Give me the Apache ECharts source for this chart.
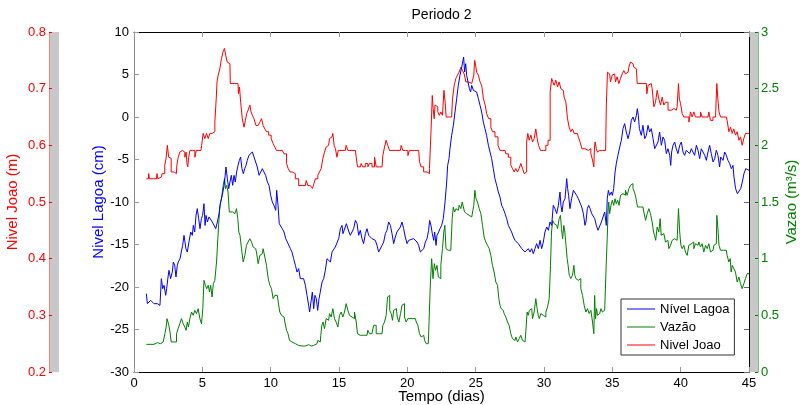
<!DOCTYPE html>
<html><head><meta charset="utf-8">
<script src="https://cdn.jsdelivr.net/npm/echarts@6/dist/echarts.min.js"></script>
<style>html,body{margin:0;padding:0;background:#fff}#c{width:800px;height:405px}</style>
</head><body><div id="c"></div>
<script>
// ---- Data ----
const lagoaDays = [0.9,0.98,1.1,1.22,1.34,1.46,1.71,1.9,2.0,2.1,2.2,2.32,2.39,2.49,2.56,2.68,2.8,2.88,2.98,3.07,3.17,3.24,3.37,3.46,3.56,3.66,3.73,3.8,3.9,4.02,4.15,4.27,4.34,4.44,4.54,4.63,4.73,4.83,4.93,5.02,5.12,5.2,5.27,5.37,5.49,5.61,5.73,5.85,5.98,6.1,6.22,6.34,6.46,6.59,6.66,6.73,6.83,6.93,7.02,7.12,7.22,7.32,7.41,7.51,7.61,7.71,7.8,7.9,8.0,8.1,8.2,8.29,8.41,8.54,8.66,8.78,8.9,9.02,9.15,9.27,9.39,9.51,9.63,9.76,9.88,10.0,10.12,10.24,10.37,10.44,10.54,10.63,10.73,10.85,10.98,11.1,11.22,
11.32,11.44,11.56,11.68,11.81,11.93,12.05,12.17,12.41,12.54,12.66,12.78,12.85,12.95,13.05,13.15,13.24,13.34,13.44,13.54,13.63,13.76,13.88,14.0,14.12,14.24,14.37,14.49,14.61,14.73,14.85,14.98,15.1,15.22,15.29,15.39,15.54,15.63,15.73,15.83,15.95,16.07,16.2,16.32,16.44,16.56,16.68,16.8,16.93,17.05,17.17,17.29,17.41,17.54,17.66,17.78,17.9,18.02,18.15,18.27,18.39,18.51,18.63,18.76,18.88,19.0,19.12,19.24,19.49,19.61,19.73,19.85,19.98,20.1,20.22,20.46,20.71,20.83,20.95,21.07,21.2,21.32,21.44,21.56,21.63,21.73,21.83,21.93,22.0,22.1,22.17,22.29,
22.39,22.51,22.63,22.76,22.88,22.95,23.05,23.12,23.24,23.37,23.49,23.61,23.73,23.85,23.98,24.05,24.12,24.19,24.27,24.34,24.46,24.54,24.63,24.71,24.83,24.95,25.07,25.2,25.32,25.44,25.56,25.68,25.8,25.93,26.05,26.17,26.29,26.41,26.54,26.66,26.78,26.9,27.02,27.15,27.27,27.39,27.51,27.63,27.76,27.88,28.0,28.12,28.24,28.37,28.49,28.61,28.73,28.85,28.98,29.1,29.22,29.34,29.46,29.59,29.71,29.83,29.95,30.07,30.2,30.32,30.44,30.56,30.68,30.8,30.93,31.05,31.17,31.24,31.32,31.41,31.54,31.66,31.73,31.8,31.9,32.02,32.15,32.27,32.39,32.51,32.63,32.76,32.88,33.0,33.07,33.17,33.27,33.37,33.49,33.61,
33.71,33.83,33.95,34.07,34.2,34.32,34.44,34.56,34.63,34.71,34.8,34.93,35.0,35.1,35.2,35.29,35.41,35.54,35.66,35.78,35.9,36.02,36.15,36.27,36.39,36.51,36.63,36.76,36.83,36.9,36.98,37.12,37.24,37.37,37.49,37.61,37.73,37.85,37.98,38.1,38.22,38.34,38.46,38.59,38.71,38.83,38.95,39.07,39.2,39.27,39.34,39.44,39.56,39.68,39.8,39.93,40.05,40.17,40.29,40.41,40.54,40.66,40.78,40.9,41.02,41.15,41.27,41.39,41.51,41.63,41.76,41.88,42.0,42.12,42.24,42.37,42.49,42.61,42.73,42.85,42.93,43.0,43.1,43.22,43.34,43.46,43.59,43.71,43.83,43.9,44.02,44.15,44.27,44.39,44.51,44.63,44.76,44.88,45.0];
const lagoaCm = [-20.78,-21.96,-21.76,-21.57,-21.76,-21.96,-21.96,-22.16,-19.02,-20.2,-19.8,-20.98,-20.2,-18.82,-18.04,-19.02,-18.24,-17.06,-17.45,-18.82,-17.45,-17.06,-16.67,-15.88,-15.1,-13.92,-14.71,-15.49,-15.88,-14.71,-13.53,-13.92,-12.75,-13.53,-11.57,-10.78,-11.96,-13.14,-11.96,-11.57,-10.2,-12.75,-11.57,-12.35,-11.76,-11.96,-12.35,-12.16,-13.14,-12.35,-11.37,-10.0,-9.22,-8.04,-7.06,-5.88,-7.25,-8.43,-7.65,-6.86,-8.04,-6.86,-7.65,-6.47,-5.69,-5.1,-4.71,-6.08,-6.67,-6.08,-5.69,-5.1,-4.51,-4.31,-4.12,-4.31,-5.29,-5.88,-6.86,-6.67,-6.08,-6.08,-6.86,-7.65,-8.04,-9.22,-10.0,-10.39,-10.98,-8.63,-10.39,-12.55,-12.75,-13.14,-13.53,-14.31,-14.71,
-14.9,-15.49,-15.88,-16.67,-17.45,-18.24,-17.84,-19.02,-19.02,-19.8,-20.98,-22.16,-22.94,-21.76,-20.59,-22.55,-20.98,-21.37,-22.75,-21.37,-20.59,-19.41,-19.02,-18.04,-16.67,-16.86,-17.06,-15.88,-15.69,-15.29,-15.1,-14.31,-13.14,-12.75,-13.73,-13.53,-12.55,-12.75,-13.53,-13.92,-13.92,-13.14,-12.16,-12.55,-13.92,-13.33,-14.31,-14.9,-13.73,-13.14,-13.92,-14.12,-14.31,-14.51,-14.51,-15.1,-15.88,-15.88,-15.1,-14.71,-13.73,-13.33,-12.35,-12.75,-13.73,-14.9,-14.12,-13.53,-12.94,-12.35,-13.14,-14.12,-14.9,-14.51,-14.31,-14.31,-14.71,-15.1,-15.88,-15.88,-15.49,-14.71,-14.31,-13.33,-12.16,-12.75,-13.73,-14.51,-13.53,-15.1,-13.92,-13.53,
-13.14,-12.75,-11.96,-10.0,-7.65,-5.69,-4.9,-3.73,-2.16,-0.98,0.59,2.16,3.73,4.9,5.88,6.47,7.06,5.29,6.27,4.9,4.9,3.33,2.94,3.73,3.14,3.33,2.94,2.16,1.37,0.59,-0.59,-1.37,-2.16,-3.33,-4.12,-4.9,-6.08,-7.25,-8.04,-8.82,-9.41,-10.39,-10.78,-11.37,-11.96,-12.75,-13.14,-13.53,-14.12,-14.51,-14.31,-14.9,-15.1,-15.49,-15.29,-15.88,-16.08,-15.49,-15.88,-15.49,-16.08,-15.49,-14.9,-15.49,-14.51,-15.49,-14.71,-13.53,-12.94,-13.33,-12.35,-12.75,-10.39,-10.78,-11.37,-10.39,-8.82,-10.39,-11.18,-10.0,-9.61,-7.25,-8.43,-9.22,-10.78,-9.61,-8.63,-8.82,-9.22,-9.61,-9.8,-10.59,-11.37,-12.75,-12.35,-10.78,-10.39,-10.78,-11.37,-11.37,
-11.96,-12.75,-13.33,-13.14,-12.35,-11.76,-11.18,-12.75,-9.61,-8.63,-9.22,-8.82,-9.22,-8.43,-6.47,-5.49,-4.51,-3.53,-2.75,-1.37,-0.78,-1.76,-2.55,-1.76,-0.39,0.0,-0.59,0.2,0.98,0.2,-1.37,-2.16,-0.98,-2.55,-2.16,-0.98,-1.76,-1.37,-2.55,-3.73,-3.92,-2.94,-1.76,-3.33,-2.35,-2.75,-4.31,-3.73,-4.51,-5.69,-4.12,-3.33,-2.94,-3.73,-4.31,-3.33,-2.94,-4.12,-4.51,-3.92,-4.12,-4.31,-3.73,-4.12,-4.51,-3.33,-3.92,-4.9,-3.73,-3.53,-4.51,-5.1,-4.12,-3.33,-4.31,-5.29,-4.9,-3.92,-4.51,-5.88,-4.71,-4.9,-5.1,-4.12,-4.51,-5.1,-5.49,-6.08,-5.69,-7.06,-8.43,-9.02,-9.02,-8.43,-7.65,-6.67,-6.08,-6.08,-6.27];

const vazaoDays = [0.9,1.46,1.71,1.95,2.07,2.2,2.32,2.39,2.44,2.51,2.59,2.68,2.76,3.05,3.17,3.29,3.41,3.54,3.66,3.78,3.85,3.95,4.02,4.15,4.27,4.39,4.51,4.63,4.76,4.88,5.0,5.07,5.17,5.27,5.37,5.49,5.56,5.66,5.76,5.85,5.98,6.1,6.17,6.24,6.34,6.46,6.59,6.66,6.73,6.83,6.93,7.02,7.12,7.32,7.44,7.56,7.63,7.71,7.8,7.93,8.05,8.17,8.29,8.41,8.54,8.66,8.78,8.9,9.02,9.15,9.27,9.39,9.51,9.63,9.76,9.88,10.0,10.12,10.24,10.37,10.49,10.61,10.73,10.85,10.98,11.1,11.22,
11.32,11.44,11.56,11.68,11.93,12.17,12.41,12.66,12.9,13.02,13.15,13.39,13.51,13.63,13.71,13.78,13.88,14.0,14.12,14.24,14.37,14.49,14.61,14.73,14.85,14.98,15.1,15.22,15.34,15.46,15.59,15.71,15.83,15.95,16.07,16.2,16.32,16.39,16.56,17.05,17.17,17.29,17.41,17.66,17.78,18.15,18.27,18.39,18.51,18.59,18.66,18.76,18.88,18.95,19.05,19.2,19.32,19.44,19.56,19.66,19.73,19.85,19.98,20.1,20.59,20.71,20.83,20.95,21.07,21.2,21.32,21.44,21.63,21.73,21.83,21.93,22.02,22.12,22.22,22.32,
22.39,22.51,22.63,22.71,22.78,22.88,23.0,23.12,23.24,23.32,23.41,23.51,23.61,23.73,23.85,23.98,24.05,24.15,24.22,24.34,24.46,24.59,24.83,24.9,24.98,25.07,25.2,25.32,25.44,25.56,25.68,25.8,25.93,26.05,26.17,26.29,26.41,26.54,26.66,26.73,26.83,26.9,27.02,27.15,27.27,27.39,27.51,27.63,27.76,27.88,28.0,28.12,28.24,28.37,28.49,28.61,28.73,28.8,28.88,28.98,29.1,29.22,29.34,29.46,29.54,29.61,29.71,29.83,29.95,30.07,30.2,30.32,30.44,30.51,30.59,30.68,30.8,30.93,31.05,31.17,31.24,31.32,31.41,31.49,31.56,31.66,31.73,31.8,31.9,32.02,32.15,32.22,32.29,32.39,32.51,32.63,32.76,32.88,33.0,33.12,33.24,33.37,33.49,33.61,33.68,
33.73,33.81,33.88,33.95,34.02,34.12,34.22,34.32,34.44,34.51,34.59,34.66,34.71,34.76,34.85,34.95,35.05,35.15,35.24,35.34,35.44,35.54,35.66,35.78,35.9,36.02,36.15,36.27,36.39,36.46,36.56,36.68,36.8,36.88,37.24,37.37,37.49,37.61,37.73,37.85,37.98,38.05,38.12,38.22,38.34,38.46,38.54,38.61,38.71,38.83,38.95,39.07,39.2,39.32,39.44,39.56,39.68,39.8,39.88,39.98,40.05,40.17,40.29,40.41,40.54,40.66,40.78,40.9,41.02,41.15,41.27,41.39,41.51,41.63,41.76,41.88,42.0,42.12,42.24,42.37,42.49,42.61,42.68,42.76,42.85,42.98,43.34,43.46,43.59,43.66,43.73,43.83,43.95,44.07,44.2,44.32,44.44,44.56,44.68,44.8,44.93,45.0];
const vazaoM3s = [0.244,0.244,0.259,0.25,0.265,0.279,0.338,0.397,0.471,0.485,0.412,0.353,0.265,0.265,0.338,0.382,0.426,0.471,0.426,0.397,0.368,0.441,0.397,0.471,0.529,0.5,0.544,0.515,0.559,0.471,0.426,0.559,0.809,0.765,0.735,0.765,0.706,0.765,0.662,0.779,0.809,0.971,1.176,1.324,1.471,1.529,1.647,1.706,1.618,1.647,1.588,1.412,1.412,1.397,1.412,1.441,1.353,1.235,1.206,1.088,0.971,1.029,1.118,1.147,1.176,1.147,1.103,1.088,1.059,0.956,1.029,1.044,1.088,1.015,0.941,0.824,0.765,0.735,0.647,0.676,0.676,0.618,0.529,0.5,0.485,0.441,0.368,
0.338,0.279,0.265,0.25,0.235,0.229,0.229,0.241,0.229,0.221,0.235,0.25,0.279,0.265,0.324,0.412,0.441,0.382,0.471,0.456,0.515,0.485,0.559,0.471,0.441,0.397,0.5,0.529,0.485,0.529,0.603,0.544,0.5,0.485,0.471,0.529,0.441,0.338,0.324,0.324,0.368,0.338,0.338,0.412,0.338,0.338,0.412,0.441,0.5,0.662,0.676,0.544,0.515,0.456,0.544,0.559,0.485,0.441,0.515,0.588,0.603,0.485,0.441,0.471,0.471,0.441,0.412,0.338,0.309,0.324,0.279,0.25,0.25,0.765,1.0,0.824,0.956,0.897,0.941,0.838,
0.824,0.941,1.088,1.235,1.294,1.088,1.074,1.074,1.088,1.353,1.456,1.412,1.441,1.426,1.471,1.441,1.5,1.456,1.412,1.397,1.382,1.368,1.353,1.471,1.603,1.529,1.5,1.441,1.397,1.294,1.191,1.147,1.118,1.088,1.029,0.941,0.882,0.794,0.765,0.647,0.588,0.559,0.544,0.515,0.485,0.441,0.412,0.338,0.294,0.279,0.309,0.265,0.294,0.324,0.279,0.265,0.353,0.529,0.5,0.544,0.559,0.471,0.529,0.647,0.559,0.5,0.471,0.515,0.5,0.485,0.529,0.574,0.647,0.941,1.235,1.338,1.309,1.294,1.265,1.353,1.382,1.265,1.176,1.294,1.235,1.118,1.0,0.941,0.853,0.824,0.853,0.941,0.853,0.824,0.809,0.824,0.735,0.676,0.588,0.529,0.559,0.515,0.544,0.441,0.338,
0.676,0.471,0.559,0.5,0.515,0.529,0.559,0.529,0.544,0.559,0.941,1.176,1.412,1.5,1.397,1.471,1.515,1.471,1.529,1.485,1.515,1.471,1.559,1.574,1.559,1.603,1.559,1.618,1.647,1.662,1.618,1.588,1.529,1.456,1.456,1.412,1.338,1.397,1.441,1.397,1.324,1.235,1.206,1.162,1.279,1.235,1.353,1.206,1.221,1.235,1.147,1.162,1.088,1.118,1.162,1.176,1.162,1.176,1.441,1.235,1.118,1.088,1.118,1.059,1.029,1.118,1.132,1.147,1.088,1.132,1.118,1.147,1.103,1.132,1.059,1.118,1.088,1.132,1.059,1.074,1.118,1.132,1.382,1.279,1.118,1.074,1.074,1.029,0.971,1.0,0.882,0.941,0.912,0.882,0.794,0.838,0.779,0.735,0.779,0.824,0.868,0.868];

const joaoDays = [0.9,1.05,1.1,1.15,1.65,1.71,1.78,2.0,2.1,2.2,2.3,2.39,2.49,2.58,2.68,2.76,3.1,3.17,3.3,3.41,3.54,3.66,3.78,3.85,3.9,3.97,4.03,4.15,4.4,4.51,4.6,4.9,5.0,5.12,5.24,5.37,5.49,5.61,5.85,5.98,6.05,6.1,6.22,6.34,6.46,6.58,6.66,6.76,6.88,7.02,7.07,7.61,7.68,7.76,7.85,8.0,8.1,8.2,8.29,8.41,8.54,8.59,8.73,8.83,9.02,9.15,9.27,9.39,9.51,9.63,9.76,9.95,10.12,10.24,10.37,10.49,10.85,11.1,11.22,11.35,
11.49,11.68,11.93,12.17,12.54,12.66,12.78,13.02,13.1,13.15,13.39,13.51,13.63,13.76,13.88,14.0,14.12,14.24,14.37,14.49,14.61,14.68,14.8,14.9,14.98,15.46,15.59,15.71,16.2,16.32,16.39,16.56,16.68,16.8,17.05,17.17,17.29,17.54,17.66,17.78,18.15,18.27,18.39,18.51,18.63,18.76,19.49,19.61,19.73,19.98,20.1,20.2,20.83,20.95,21.07,21.32,21.56,21.68,21.8,21.85,21.93,22.0,22.05,22.17,22.29,
22.39,22.51,22.63,22.73,22.8,22.88,23.24,23.37,23.49,23.61,23.73,23.85,23.98,24.1,24.22,24.34,24.59,24.83,24.9,24.95,25.02,25.12,25.27,25.37,25.51,25.63,25.76,25.85,26.05,26.17,26.29,26.54,26.73,26.83,27.15,27.27,27.51,27.63,27.76,27.88,28.0,28.12,28.24,28.37,28.49,28.61,28.68,28.78,28.85,28.98,29.1,29.22,29.34,29.46,29.54,29.66,29.83,30.07,30.2,30.39,30.51,30.61,30.68,30.8,30.93,31.05,31.17,31.29,31.41,31.54,31.66,31.78,31.9,32.02,32.15,32.27,32.44,32.59,32.68,32.88,33.12,33.37,33.49,33.61,33.68,
33.71,33.78,33.88,33.95,34.07,34.51,34.61,34.68,34.8,34.93,35.05,35.17,35.29,35.41,35.54,35.66,35.78,35.9,36.02,36.15,36.27,36.39,36.51,36.63,36.76,36.88,37.49,37.56,37.68,37.85,37.98,38.1,38.22,38.34,38.46,38.59,38.71,38.83,38.95,39.2,39.44,39.56,39.68,39.8,39.88,39.93,40.05,40.17,40.29,40.54,40.66,40.78,40.9,41.02,41.15,41.39,41.51,41.63,42.0,42.12,42.24,42.49,42.61,42.68,42.76,42.85,42.98,43.34,43.46,43.59,43.71,43.83,43.95,44.07,44.2,44.32,44.44,44.56,44.68,44.8,45.0];
const joaoM = [0.541,0.541,0.55,0.541,0.541,0.55,0.541,0.544,0.55,0.55,0.565,0.577,0.6,0.579,0.577,0.553,0.55,0.565,0.579,0.588,0.591,0.588,0.579,0.588,0.568,0.562,0.579,0.591,0.591,0.579,0.591,0.591,0.6,0.621,0.612,0.621,0.612,0.621,0.624,0.641,0.682,0.712,0.724,0.735,0.753,0.765,0.771,0.759,0.747,0.744,0.709,0.709,0.691,0.703,0.676,0.647,0.632,0.644,0.656,0.662,0.671,0.659,0.653,0.647,0.635,0.632,0.641,0.647,0.635,0.629,0.624,0.618,0.612,0.603,0.597,0.591,0.591,0.585,0.568,0.559,
0.553,0.55,0.541,0.529,0.529,0.538,0.529,0.529,0.524,0.529,0.541,0.547,0.553,0.559,0.577,0.588,0.597,0.6,0.612,0.615,0.621,0.6,0.594,0.579,0.591,0.591,0.6,0.591,0.591,0.579,0.562,0.562,0.568,0.562,0.568,0.562,0.568,0.562,0.579,0.562,0.562,0.582,0.597,0.609,0.6,0.591,0.591,0.6,0.591,0.591,0.582,0.591,0.591,0.571,0.562,0.553,0.55,0.559,0.629,0.688,0.665,0.647,0.671,0.668,0.659,
0.653,0.659,0.653,0.697,0.676,0.65,0.65,0.682,0.706,0.718,0.724,0.729,0.738,0.732,0.726,0.712,0.709,0.709,0.724,0.75,0.744,0.729,0.724,0.712,0.706,0.682,0.671,0.656,0.647,0.632,0.624,0.615,0.6,0.591,0.591,0.585,0.579,0.565,0.559,0.553,0.559,0.553,0.559,0.568,0.559,0.55,0.553,0.606,0.621,0.609,0.618,0.606,0.612,0.629,0.612,0.6,0.591,0.591,0.6,0.609,0.694,0.718,0.712,0.706,0.715,0.703,0.712,0.7,0.697,0.685,0.676,0.647,0.632,0.624,0.629,0.621,0.621,0.615,0.606,0.594,0.591,0.594,0.585,0.574,0.562,
0.597,0.606,0.594,0.588,0.591,0.591,0.671,0.729,0.726,0.712,0.724,0.726,0.712,0.721,0.709,0.718,0.726,0.732,0.726,0.729,0.738,0.747,0.744,0.738,0.735,0.709,0.709,0.691,0.706,0.709,0.7,0.668,0.676,0.697,0.682,0.671,0.685,0.671,0.676,0.662,0.665,0.668,0.662,0.668,0.709,0.682,0.674,0.656,0.65,0.65,0.641,0.659,0.65,0.659,0.65,0.65,0.659,0.65,0.65,0.659,0.644,0.65,0.653,0.709,0.682,0.659,0.65,0.65,0.644,0.624,0.632,0.621,0.629,0.618,0.624,0.609,0.615,0.6,0.612,0.621,0.621];

const xTicks = {min: 0, max: 45, step: 5};
const lagoaTicks = {min: -30, max: 10, step: 5};
const joaoTicks = {min: 0.2, max: 0.8, step: 0.1};
const vazaoTicks = {min: 0, max: 3, step: 0.5};

// ---- Chart ----
const pairs = (t, v) => t.map((d, i) => [d, v[i]]);
const FONT = "'Liberation Sans', Arial, Helvetica, sans-serif";
const chart = echarts.init(document.getElementById('c'), null, {renderer: 'canvas'});
const noSplit = {show: false};
const BLUE = '#0000ff', GREEN = '#008000', RED = '#ff0000';

chart.setOption({
  animation: false,
  backgroundColor: '#ffffff',
  textStyle: {fontFamily: FONT},
  grid: [
    {left: 134, right: 51, top: 32, bottom: 33, show: false, containLabel: false, outerBoundsMode: 'none'},
    {left: 50, top: 32, width: 9, height: 340, show: true, backgroundColor: '#c8c8c8', borderWidth: 0, containLabel: false, outerBoundsMode: 'none'},
    {left: 750, top: 32, width: 8, height: 340, show: true, backgroundColor: '#c8c8c8', borderWidth: 0, containLabel: false, outerBoundsMode: 'none'}
  ],
  xAxis: [
    {type: 'value', gridIndex: 0, position: 'bottom', min: xTicks.min, max: xTicks.max, interval: xTicks.step,
     axisLine: {onZero: false, lineStyle: {color: '#000', width: 1}},
     axisTick: {inside: true, length: 5, lineStyle: {color: '#999'}},
     axisLabel: {color: '#000', fontSize: 13, margin: 5, fontFamily: FONT},
     splitLine: noSplit,
     name: 'Tempo (dias)', nameLocation: 'middle', nameGap: 17, nameMoveOverlap: false,
     nameTextStyle: {color: '#000', fontSize: 15, fontFamily: FONT}},
    {type: 'value', gridIndex: 0, position: 'top', min: xTicks.min, max: xTicks.max, interval: xTicks.step,
     axisLine: {onZero: false, lineStyle: {color: '#000', width: 1}},
     axisTick: {inside: true, length: 5, lineStyle: {color: '#999'}},
     axisLabel: {show: false}, splitLine: noSplit,
     name: 'Periodo 2', nameLocation: 'middle', nameGap: 10, nameMoveOverlap: false,
     nameTextStyle: {color: '#000', fontSize: 14, fontFamily: FONT}},
    {type: 'value', gridIndex: 1, show: false, min: 0, max: 1},
    {type: 'value', gridIndex: 2, show: false, min: 0, max: 1}
  ],
  yAxis: [
    {type: 'value', gridIndex: 0, position: 'left', min: lagoaTicks.min, max: lagoaTicks.max, interval: lagoaTicks.step,
     axisLine: {show: true, onZero: false, lineStyle: {color: '#888', width: 1}},
     axisTick: {show: true, inside: true, length: 5, lineStyle: {color: '#999'}},
     axisLabel: {color: '#000', fontSize: 13, margin: 5, fontFamily: FONT},
     splitLine: noSplit,
     name: 'Nivel Lagoa (cm)', nameLocation: 'middle', nameGap: 28, nameMoveOverlap: false,
     nameTextStyle: {color: BLUE, fontSize: 15, fontFamily: FONT}},
    {type: 'value', gridIndex: 0, position: 'left', offset: 85, min: joaoTicks.min, max: joaoTicks.max, interval: joaoTicks.step,
     axisLine: {show: true, onZero: false, lineStyle: {color: '#ff7f7f', width: 1}},
     axisTick: {show: true, inside: true, length: 3, lineStyle: {color: RED}},
     axisLabel: {color: RED, fontSize: 13, margin: 3, fontFamily: FONT, formatter: v => v.toFixed(1)},
     splitLine: noSplit,
     name: 'Nivel Joao (m)', nameLocation: 'middle', nameGap: 29, nameMoveOverlap: false,
     nameTextStyle: {color: RED, fontSize: 15, fontFamily: FONT}},
    {type: 'value', gridIndex: 0, position: 'right', offset: 9, min: vazaoTicks.min, max: vazaoTicks.max, interval: vazaoTicks.step,
     axisLine: {show: true, onZero: false, lineStyle: {color: '#7fbf7f', width: 1}},
     axisTick: {show: true, inside: true, length: 3, lineStyle: {color: GREEN}},
     axisLabel: {color: GREEN, fontSize: 13, margin: 3, fontFamily: FONT, formatter: v => String(+v.toFixed(1))},
     splitLine: noSplit,
     name: 'Vazao (m³/s)', nameLocation: 'middle', nameGap: 26, nameMoveOverlap: false,
     nameTextStyle: {color: GREEN, fontSize: 15, fontFamily: FONT}},
    {type: 'value', gridIndex: 0, position: 'right', offset: 0, min: lagoaTicks.min, max: lagoaTicks.max, interval: lagoaTicks.step,
     axisLine: {show: true, onZero: false, lineStyle: {color: '#000', width: 1}},
     axisTick: {show: true, inside: true, length: 5, lineStyle: {color: '#666'}},
     axisLabel: {show: false}, splitLine: noSplit},
    {type: 'value', gridIndex: 1, show: false, min: 0, max: 1},
    {type: 'value', gridIndex: 2, show: false, min: 0, max: 1}
  ],
  legend: {
    orient: 'vertical', left: 621, top: 299,
    data: ['Nível Lagoa', 'Vazão', 'Nivel Joao'],
    icon: 'rect',
    backgroundColor: '#fff', borderColor: '#333', borderWidth: 1,
    padding: [3, 5, 3, 6], itemWidth: 28, itemHeight: 1, itemGap: 4,
    textStyle: {color: '#000', fontSize: 13, lineHeight: 14, fontFamily: FONT}
  },
  series: [
    {name: 'Nível Lagoa', type: 'line', xAxisIndex: 0, yAxisIndex: 0, data: pairs(lagoaDays, lagoaCm),
     symbol: 'none', showSymbol: false, lineStyle: {color: BLUE, width: 1}, itemStyle: {color: BLUE}, z: 3},
    {name: 'Vazão', type: 'line', xAxisIndex: 0, yAxisIndex: 2, data: pairs(vazaoDays, vazaoM3s), step: 'middle',
     symbol: 'none', showSymbol: false, lineStyle: {color: GREEN, width: 1}, itemStyle: {color: GREEN}, z: 2},
    {name: 'Nivel Joao', type: 'line', xAxisIndex: 0, yAxisIndex: 1, data: pairs(joaoDays, joaoM), step: 'middle',
     symbol: 'none', showSymbol: false, lineStyle: {color: RED, width: 1}, itemStyle: {color: RED}, z: 2}
  ]
});
</script></body></html>
